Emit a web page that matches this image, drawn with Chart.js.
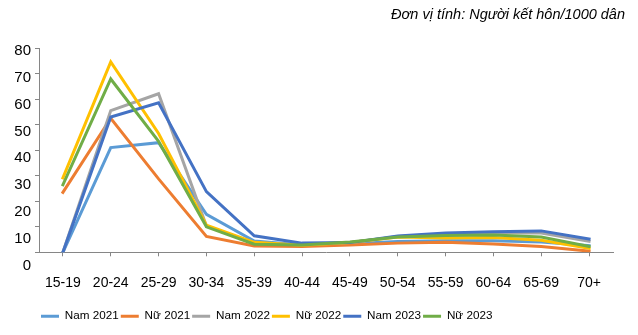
<!DOCTYPE html>
<html lang="vi">
<head>
<meta charset="utf-8">
<title>Tỷ suất kết hôn theo nhóm tuổi</title>
<script src="https://cdn.jsdelivr.net/npm/chart.js@4.4.1/dist/chart.umd.min.js"></script>
<style>
  html, body { margin: 0; padding: 0; background: #fff; }
  #wrap { width: 638px; height: 335px; position: relative; }
</style>
</head>
<body>
<div id="wrap"><canvas id="marriageChart"></canvas></div>
<script>
// ====================
// DATA
// ====================
const ageGroups = ["15-19", "20-24", "25-29", "30-34", "35-39", "40-44",
                   "45-49", "50-54", "55-59", "60-64", "65-69", "70+"];

const nam2021 = [0, 41.1, 43.0, 14.9, 4.4, 2.9, 3.4, 4.2, 4.5, 4.5, 4.0, 2.6];
const nu2021  = [23.5, 52.6, 28.8, 6.2, 2.5, 2.3, 2.9, 3.6, 3.9, 3.3, 2.3, 0.5];
const nam2022 = [0, 55.6, 62.2, 10.3, 3.6, 3.0, 3.8, 6.2, 7.2, 7.6, 7.6, 4.3];
const nu2022  = [29.2, 74.7, 46.6, 10.6, 3.9, 2.8, 3.8, 6.0, 5.6, 5.8, 4.7, 1.6];
const nam2023 = [0, 53.1, 58.7, 23.8, 6.5, 3.6, 3.8, 6.4, 7.6, 8.1, 8.4, 5.2];
const nu2023  = [26.5, 68.0, 43.5, 10.0, 3.2, 2.9, 4.0, 6.0, 6.6, 6.8, 6.0, 2.3];

const seriesNames = ["Nam 2021", "Nữ 2021", "Nam 2022", "Nữ 2022", "Nam 2023", "Nữ 2023"];
const seriesData = [nam2021, nu2021, nam2022, nu2022, nam2023, nu2023];
const seriesColors = ["#5B9BD5", "#ED7D31", "#A5A5A5", "#FFC000", "#4472C4", "#70AD47"];

const yMin = 0;
const yMax = 80;
const yStep = 10;

const unitNote = "Đơn vị tính: Người kết hôn/1000 dân";

const FONT = "'Liberation Sans', Arial, sans-serif";
const AXIS_GREY = "#868686";

// later series sit on top, legend keeps the original order
const datasets = seriesNames.map((name, i) => ({
    label: name,
    data: seriesData[i],
    borderColor: seriesColors[i],
    backgroundColor: seriesColors[i],
    borderWidth: 3,
    borderCapStyle: "square",
    pointRadius: 0,
    pointHoverRadius: 0,
    tension: 0,
    fill: false,
    order: seriesNames.length - i
}));

// value labels drift downwards a little the lower they go
function tickFont(ctx) {
    const v = ctx.tick ? ctx.tick.value : yMax;
    const drop = 2 + (yMax - v) * 0.15;
    return { family: FONT, size: 15, lineHeight: (drop * 2) / 15 };
}

new Chart(document.getElementById("marriageChart"), {
    type: "line",
    data: {
        labels: ageGroups,
        datasets: datasets
    },
    options: {
        responsive: true,
        maintainAspectRatio: false,
        animation: false,
        layout: {
            padding: { left: 0, right: 13, top: 0, bottom: 3 }
        },
        plugins: {
            title: {
                display: true,
                text: unitNote,
                align: "end",
                color: "#000",
                font: { family: FONT, size: 14.5, style: "italic", weight: "normal" },
                padding: { top: 6, bottom: 25 }
            },
            legend: {
                position: "bottom",
                align: "start",
                fullSize: false,
                labels: {
                    usePointStyle: true,
                    pointStyle: "line",
                    pointStyleWidth: 18,
                    boxHeight: 3,
                    padding: 2,
                    color: "#000",
                    font: { family: FONT, size: 11.7 },
                    sort: (a, b) => a.datasetIndex - b.datasetIndex
                }
            },
            tooltip: { enabled: false }
        },
        scales: {
            x: {
                type: "category",
                offset: true,
                grid: {
                    drawOnChartArea: false,
                    offset: false,
                    tickLength: 4,
                    color: AXIS_GREY
                },
                border: { color: AXIS_GREY, width: 1 },
                ticks: {
                    color: "#000",
                    padding: 18,
                    maxRotation: 0,
                    autoSkip: false,
                    font: { family: FONT, size: 14 }
                },
                afterFit: s => { s.height = 56; }
            },
            y: {
                min: yMin,
                max: yMax,
                position: "left",
                grid: {
                    drawOnChartArea: false,
                    tickLength: 4,
                    color: AXIS_GREY
                },
                border: { color: AXIS_GREY, width: 1 },
                ticks: {
                    stepSize: yStep,
                    autoSkip: false,
                    padding: 4,
                    color: "#000",
                    font: tickFont,
                    callback: v => ["", String(v)]
                },
                afterFit: s => { s.width = 39; }
            },
            yr: {
                position: "right",
                grid: { display: false },
                border: { display: false },
                ticks: { display: false },
                afterFit: s => { s.width = 12; }
            }
        }
    }
});
</script>
</body>
</html>
